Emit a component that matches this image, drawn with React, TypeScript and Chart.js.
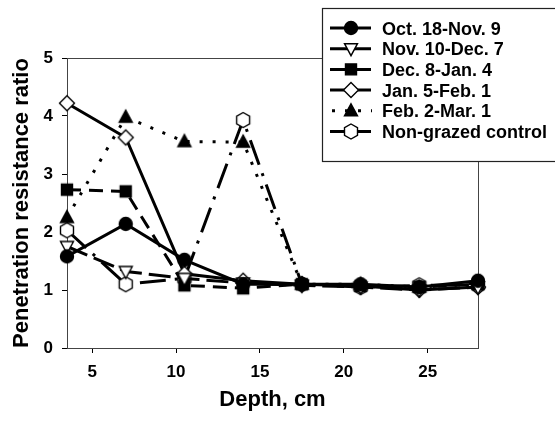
import React, { useEffect, useRef } from "react";
import { Chart, registerables } from "chart.js";

Chart.register(...registerables);

const depths = [3.5, 7, 10.5, 14, 17.5, 21, 24.5, 28];
const octNov = [1.58, 2.14, 1.52, 1.1, 1.1, 1.1, 1.05, 1.16];
const novDec = [1.75, 1.32, 1.2, 1.12, 1.08, 1.05, 1.0, 1.05];
const decJan = [2.73, 2.7, 1.08, 1.03, 1.1, 1.07, 1.05, 1.1];
const janFeb = [4.22, 3.63, 1.28, 1.16, 1.1, 1.07, 1.0, 1.05];
const febMar = [2.25, 3.98, 3.56, 3.55, 1.1, 1.1, 1.05, 1.12];
const control = [2.03, 1.1, 1.2, 3.93, 1.1, 1.05, 1.08, 1.08];

const seriesLabels = [
  "Oct. 18-Nov. 9",
  "Nov. 10-Dec. 7",
  "Dec. 8-Jan. 4",
  "Jan. 5-Feb. 1",
  "Feb. 2-Mar. 1",
  "Non-grazed control",
];
const xTicks = [5, 10, 15, 20, 25];
const yTicks = [0, 1, 2, 3, 4, 5];

const FONT = "'Liberation Sans', Arial, sans-serif";

type MarkerType = "circle" | "downTri" | "square" | "diamond" | "upTri" | "hexagon";

function drawMarker(ctx: CanvasRenderingContext2D, type: MarkerType, x: number, y: number) {
  ctx.save();
  ctx.setLineDash([]);
  ctx.lineWidth = 1.4;
  ctx.strokeStyle = "#000";
  ctx.beginPath();
  let fill = "#000";
  if (type === "circle") {
    ctx.arc(x, y, 6.5, 0, Math.PI * 2);
  } else if (type === "downTri") {
    fill = "#fff";
    ctx.moveTo(x - 6.5, y - 5);
    ctx.lineTo(x + 6.5, y - 5);
    ctx.lineTo(x, y + 7);
    ctx.closePath();
  } else if (type === "square") {
    ctx.rect(x - 5.5, y - 5.5, 11, 11);
  } else if (type === "diamond") {
    fill = "#fff";
    ctx.moveTo(x, y - 7.5);
    ctx.lineTo(x + 7.5, y);
    ctx.lineTo(x, y + 7.5);
    ctx.lineTo(x - 7.5, y);
    ctx.closePath();
  } else if (type === "upTri") {
    ctx.moveTo(x, y - 7);
    ctx.lineTo(x + 6.5, y + 5);
    ctx.lineTo(x - 6.5, y + 5);
    ctx.closePath();
  } else {
    fill = "#fff";
    for (let i = 0; i < 6; i++) {
      const a = -Math.PI / 2 + (i * Math.PI) / 3;
      const px = x + 7.5 * Math.cos(a);
      const py = y + 7.5 * Math.sin(a);
      if (i === 0) ctx.moveTo(px, py);
      else ctx.lineTo(px, py);
    }
    ctx.closePath();
  }
  ctx.fillStyle = fill;
  ctx.fill();
  ctx.stroke();
  ctx.restore();
}

function markerCanvas(type: MarkerType) {
  const c = document.createElement("canvas");
  c.width = 20;
  c.height = 20;
  const ctx = c.getContext("2d");
  if (ctx) drawMarker(ctx, type, 10, 10);
  return c;
}

const markers: MarkerType[] = ["circle", "downTri", "square", "diamond", "upTri", "hexagon"];
const dashes: number[][] = [[], [22, 7], [14, 8], [], [3, 10], [26, 9, 3, 9]];
const values = [octNov, novDec, decJan, janFeb, febMar, control];

function drawText(
  ctx: CanvasRenderingContext2D,
  text: string,
  x: number,
  y: number,
  size: number,
  align: "left" | "center",
  rotate = false
) {
  ctx.save();
  ctx.translate(x, y);
  if (rotate) ctx.rotate(-Math.PI / 2);
  ctx.font = `bold ${size}px ${FONT}`;
  ctx.fillStyle = "#000";
  ctx.textAlign = align;
  ctx.textBaseline = "alphabetic";
  ctx.fillText(text, 0, 0);
  ctx.restore();
}

export default function App() {
  const ref = useRef<HTMLCanvasElement>(null);

  useEffect(() => {
    if (!ref.current) return;
    const images = markers.map((m) => markerCanvas(m));

    const decorPlugin = {
      id: "decor",
      beforeDatasetsDraw(chart: any) {
        const { ctx, chartArea: a } = chart;
        ctx.save();
        ctx.strokeStyle = "#444";
        ctx.lineWidth = 1;
        ctx.strokeRect(a.left + 0.5, a.top + 0.5, a.right - a.left, a.bottom - a.top);
        ctx.restore();
      },
      afterDraw(chart: any) {
        const { ctx, chartArea: a } = chart;
        drawText(ctx, "Depth, cm", (a.left + a.right) / 2, 406, 22, "center");
        drawText(ctx, "Penetration resistance ratio", 28, (a.top + a.bottom) / 2, 22, "center", true);
        ctx.save();
        ctx.fillStyle = "#fff";
        ctx.fillRect(322, 8, 240, 154);
        ctx.strokeStyle = "#222";
        ctx.lineWidth = 1.2;
        ctx.strokeRect(322.5, 8.5, 240, 153);
        ctx.restore();
        seriesLabels.forEach((lab, i) => {
          const y = 28 + i * 20.7;
          ctx.save();
          ctx.strokeStyle = "#000";
          ctx.lineWidth = 3;
          if (i === 4) {
            ctx.setLineDash([3, 10]);
            ctx.beginPath();
            ctx.moveTo(332, y);
            ctx.lineTo(372, y);
            ctx.stroke();
          } else {
            ctx.beginPath();
            ctx.moveTo(330, y);
            ctx.lineTo(371, y);
            ctx.stroke();
          }
          ctx.restore();
          drawMarker(ctx, markers[i], 351, y);
          drawText(ctx, lab, 382, y + 6.5, 18, "left");
        });
      },
    };

    const chart = new Chart(ref.current, {
      type: "line",
      data: {
        datasets: values.map((vals, i) => ({
          label: seriesLabels[i],
          data: depths.map((d, j) => ({ x: d, y: vals[j] })),
          borderColor: "#000",
          borderWidth: 3,
          borderDash: dashes[i],
          pointStyle: images[i] as any,
          pointRadius: 7,
          pointHoverRadius: 7,
          fill: false,
          tension: 0,
          clip: false as any,
        })),
      },
      options: {
        animation: false,
        responsive: false,
        devicePixelRatio: 1,
        layout: { padding: { top: 58, right: 77, left: 0, bottom: 0 } },
        plugins: { legend: { display: false }, tooltip: { enabled: false } },
        scales: {
          x: {
            type: "linear",
            min: 3.5,
            max: 28,
            afterFit(scale: any) {
              scale.height = 73;
            },
            afterBuildTicks(scale: any) {
              scale.ticks = xTicks.map((v) => ({ value: v }));
            },
            grid: { drawOnChartArea: false, drawTicks: true, tickLength: 5, color: "#000" },
            border: { display: true, color: "#000", width: 1 },
            ticks: {
              color: "#000",
              font: { family: FONT, size: 17, weight: "bold" },
              padding: 9,
              maxRotation: 0,
            },
          },
          y: {
            type: "linear",
            min: 0,
            max: 5,
            afterFit(scale: any) {
              scale.width = 67;
            },
            afterBuildTicks(scale: any) {
              scale.ticks = yTicks.map((v) => ({ value: v }));
            },
            grid: { drawOnChartArea: false, drawTicks: true, tickLength: 5, color: "#000" },
            border: { display: true, color: "#000", width: 1 },
            ticks: {
              color: "#000",
              font: { family: FONT, size: 17, weight: "bold" },
              padding: 9,
            },
          },
        },
      },
      plugins: [decorPlugin],
    } as any);
    return () => chart.destroy();
  }, []);

  return (
    <div style={{ position: "absolute", left: 0, top: 0, width: 555, height: 421, background: "#fff" }}>
      <canvas ref={ref} width={555} height={421} style={{ display: "block" }} />
    </div>
  );
}
